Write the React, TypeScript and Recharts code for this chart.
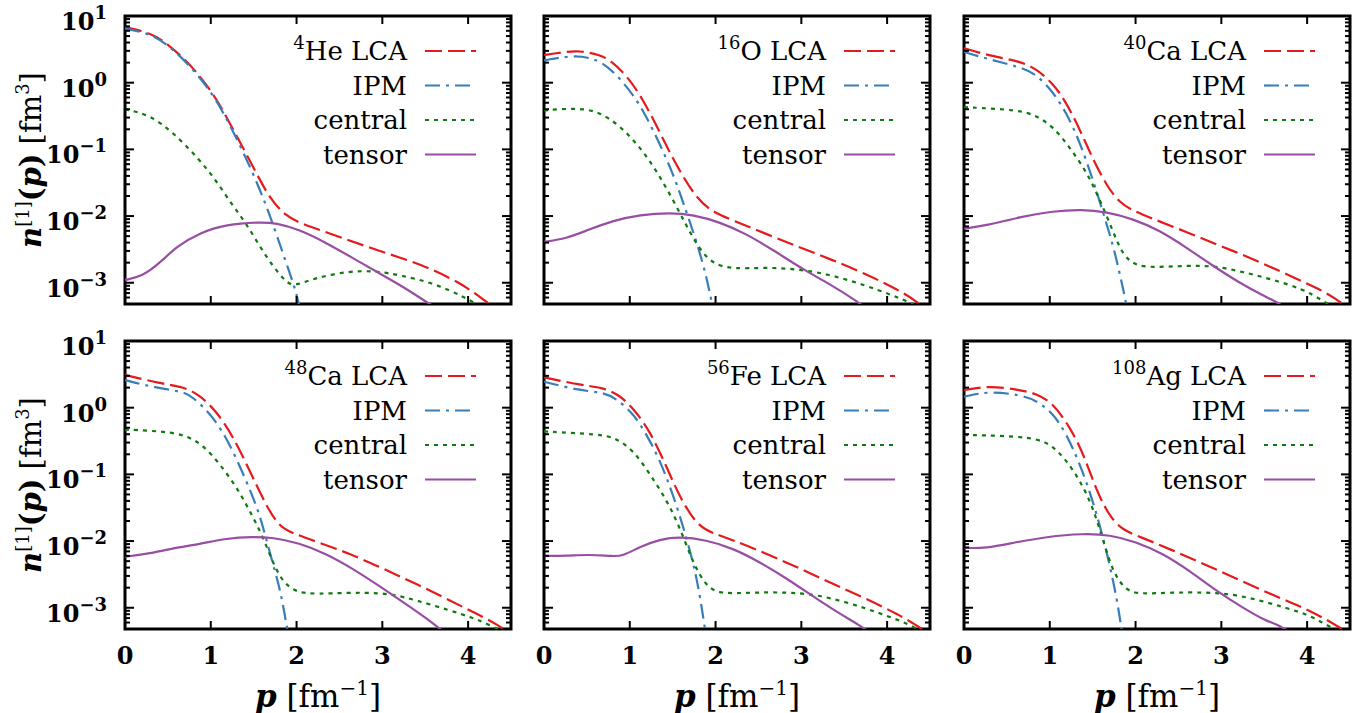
import React from 'react';
import { Legend, Line, LineChart, ReferenceArea, XAxis, YAxis } from 'recharts';

const FONT = '"DejaVu Serif", serif';

// plot area geometry (page pixels)
const W = 386;
const H = 288;
const colLefts = [125, 544, 964];
const rowTops = [16, 341];
const Y_MIN = 4.8e-4;
const Y_MAX = 10;

const massNumbers = ['4', '16', '40', '48', '56', '108'];
const symbols = ['He', 'O', 'Ca', 'Ca', 'Fe', 'Ag'];

const xTicks = [0, 1, 2, 3, 4];

// log ticks: decades plus 2..9 minors
const yTicks: number[] = [];
for (let e = -4; e <= 1; e++) {
  for (let m = 1; m <= 9; m++) {
    const v = m * Math.pow(10, e);
    if (v >= 5.5e-4 && v <= 10.0001) yTicks.push(v);
  }
}

// [p (fm^-1), n(p) (fm^3)]
const heLCA = [[0, 6.8], [0.3, 5.6], [0.5, 3.8], [0.72, 2.1], [0.87, 1.26], [1.05, 0.63], [1.26, 0.2], [1.49, 0.056], [1.69, 0.0178], [1.88, 0.01], [2.03, 0.0079], [2.42, 0.0053], [2.81, 0.0035], [3.2, 0.0024], [3.59, 0.0016], [3.97, 0.00089], [4.2, 0.00053], [4.5, 0.00028]];
const heIPM = [[0, 6.5], [0.3, 5.4], [0.5, 3.7], [0.72, 2.0], [0.87, 1.2], [1.05, 0.6], [1.26, 0.19], [1.49, 0.045], [1.65, 0.014], [1.76, 0.0056], [1.92, 0.0014], [2.0, 0.0007], [2.06, 0.0003]];
const heCentral = [[0, 0.4], [0.29, 0.33], [0.56, 0.18], [0.87, 0.07], [1.07, 0.033], [1.26, 0.014], [1.41, 0.0079], [1.57, 0.0035], [1.72, 0.0018], [1.88, 0.001], [1.98, 0.00089], [2.23, 0.0012], [2.62, 0.0015], [2.93, 0.0015], [3.2, 0.0013], [3.59, 0.001], [3.97, 0.0006], [4.2, 0.0004]];
const heTensor = [[0, 0.0011], [0.21, 0.00126], [0.41, 0.002], [0.6, 0.0035], [0.87, 0.0056], [1.18, 0.0075], [1.57, 0.0081], [1.76, 0.0079], [2.03, 0.0063], [2.34, 0.004], [2.62, 0.0025], [3.0, 0.0013], [3.2, 0.00094], [3.5, 0.00053], [3.8, 0.0003]];

const oLCA = [[0, 2.6], [0.2, 2.85], [0.42, 3.05], [0.65, 2.6], [0.77, 2.2], [0.96, 1.3], [1.15, 0.58], [1.35, 0.18], [1.54, 0.058], [1.78, 0.018], [1.97, 0.0115], [2.2, 0.0086], [2.59, 0.0054], [2.98, 0.0034], [3.36, 0.0022], [3.75, 0.00136], [4.14, 0.00077], [4.33, 0.00054], [4.5, 0.00036]];
const oIPM = [[0, 2.16], [0.34, 2.6], [0.61, 2.3], [0.81, 1.5], [1.08, 0.58], [1.27, 0.2], [1.5, 0.046], [1.66, 0.0115], [1.78, 0.0041], [1.89, 0.0013], [1.95, 0.00054], [2.0, 0.0003]];
const oCentral = [[0, 0.385], [0.42, 0.42], [0.65, 0.36], [0.88, 0.23], [1.12, 0.108], [1.31, 0.048], [1.5, 0.018], [1.66, 0.0072], [1.81, 0.0032], [1.97, 0.0019], [2.2, 0.0016], [2.59, 0.0017], [2.98, 0.0016], [3.36, 0.0013], [3.75, 0.00091], [4.06, 0.00065], [4.26, 0.00051], [4.5, 0.00035]];
const oTensor = [[0, 0.0041], [0.26, 0.0046], [0.5, 0.0061], [0.81, 0.0086], [1.12, 0.0105], [1.47, 0.0112], [1.74, 0.0105], [2.05, 0.0081], [2.36, 0.0054], [2.67, 0.0031], [3.05, 0.0015], [3.36, 0.00091], [3.64, 0.00054], [3.9, 0.0003]];

const ca40LCA = [[0, 3.3], [0.26, 2.6], [0.65, 2.1], [0.84, 1.62], [1.04, 0.97], [1.19, 0.51], [1.35, 0.2], [1.5, 0.072], [1.66, 0.029], [1.81, 0.016], [1.97, 0.012], [2.2, 0.0091], [2.59, 0.0058], [2.98, 0.0036], [3.36, 0.0023], [3.75, 0.00136], [4.14, 0.00081], [4.33, 0.00058], [4.5, 0.0004]];
const ca40IPM = [[0, 2.9], [0.26, 2.3], [0.65, 1.72], [0.84, 1.36], [1.04, 0.72], [1.19, 0.36], [1.35, 0.13], [1.5, 0.036], [1.62, 0.0115], [1.74, 0.0036], [1.81, 0.00145], [1.86, 0.00077], [1.92, 0.0003]];
const ca40Central = [[0, 0.43], [0.65, 0.39], [0.84, 0.32], [1.04, 0.22], [1.23, 0.108], [1.43, 0.046], [1.58, 0.018], [1.74, 0.0058], [1.85, 0.0026], [2.0, 0.0018], [2.2, 0.0017], [2.59, 0.0018], [2.9, 0.0018], [3.21, 0.0015], [3.56, 0.00115], [3.95, 0.00081], [4.18, 0.00054], [4.4, 0.00036]];
const ca40Tensor = [[0, 0.0065], [0.26, 0.0072], [0.65, 0.0097], [1.04, 0.0119], [1.38, 0.0126], [1.66, 0.0115], [1.97, 0.0091], [2.28, 0.0061], [2.59, 0.0034], [2.9, 0.0018], [3.21, 0.001], [3.48, 0.00065], [3.67, 0.0005], [3.9, 0.0003]];

const ca48LCA = [[0, 3.1], [0.41, 2.3], [0.68, 2.07], [0.87, 1.55], [1.07, 0.87], [1.26, 0.37], [1.45, 0.116], [1.65, 0.033], [1.8, 0.0164], [1.96, 0.013], [2.23, 0.0098], [2.62, 0.0065], [3.0, 0.0039], [3.39, 0.0023], [3.78, 0.0013], [4.17, 0.00073], [4.34, 0.00056], [4.5, 0.0004]];
const ca48IPM = [[0, 2.6], [0.29, 2.07], [0.68, 1.74], [0.79, 1.46], [1.03, 0.73], [1.22, 0.29], [1.41, 0.082], [1.57, 0.026], [1.69, 0.0065], [1.8, 0.0021], [1.86, 0.00082], [1.92, 0.0003]];
const ca48Central = [[0, 0.47], [0.48, 0.44], [0.72, 0.38], [0.91, 0.275], [1.1, 0.146], [1.3, 0.065], [1.45, 0.029], [1.61, 0.0116], [1.77, 0.0033], [1.92, 0.0019], [2.11, 0.0016], [2.42, 0.00165], [2.81, 0.0017], [3.12, 0.0016], [3.39, 0.0013], [3.78, 0.00092], [4.05, 0.00071], [4.24, 0.00056], [4.5, 0.00038]];
const ca48Tensor = [[0, 0.0058], [0.29, 0.0065], [0.56, 0.0078], [0.87, 0.009], [1.18, 0.011], [1.49, 0.0116], [1.72, 0.0113], [2.03, 0.0094], [2.34, 0.0065], [2.65, 0.0039], [2.97, 0.0021], [3.29, 0.0011], [3.6, 0.00058], [3.8, 0.00035]];

const feLCA = [[0, 2.85], [0.42, 2.19], [0.69, 2.0], [0.88, 1.55], [1.04, 0.98], [1.23, 0.46], [1.43, 0.13], [1.58, 0.046], [1.78, 0.0174], [1.97, 0.013], [2.2, 0.0104], [2.59, 0.0065], [2.98, 0.0039], [3.36, 0.0023], [3.75, 0.00138], [4.14, 0.00078], [4.33, 0.00056], [4.5, 0.0004]];
const feIPM = [[0, 2.45], [0.42, 1.8], [0.69, 1.7], [0.84, 1.38], [1.04, 0.82], [1.19, 0.41], [1.35, 0.164], [1.5, 0.052], [1.66, 0.0116], [1.78, 0.0029], [1.85, 0.00082], [1.9, 0.0003]];
const feCentral = [[0, 0.44], [0.65, 0.4], [0.84, 0.35], [1.04, 0.23], [1.23, 0.104], [1.43, 0.041], [1.58, 0.0164], [1.74, 0.0046], [1.89, 0.0021], [2.05, 0.0016], [2.43, 0.0017], [2.82, 0.0017], [3.13, 0.0016], [3.44, 0.0013], [3.75, 0.00098], [4.02, 0.00074], [4.26, 0.00056], [4.5, 0.00038]];
const feTensor = [[0, 0.006], [0.26, 0.006], [0.53, 0.0063], [0.81, 0.0059], [0.92, 0.006], [1.12, 0.0082], [1.35, 0.0106], [1.58, 0.0116], [1.89, 0.0104], [2.2, 0.0078], [2.51, 0.0049], [2.82, 0.0028], [3.13, 0.0015], [3.44, 0.00082], [3.67, 0.00056], [3.85, 0.00038]];

const agLCA = [[0, 1.84], [0.3, 2.14], [0.65, 1.84], [0.84, 1.64], [1.04, 1.16], [1.23, 0.52], [1.39, 0.21], [1.54, 0.058], [1.7, 0.023], [1.85, 0.0146], [2.05, 0.0116], [2.43, 0.0073], [2.82, 0.0044], [3.21, 0.0026], [3.6, 0.00155], [3.98, 0.00098], [4.33, 0.00056], [4.5, 0.0004]];
const agIPM = [[0, 1.46], [0.3, 1.78], [0.65, 1.55], [0.84, 1.3], [1.04, 0.82], [1.19, 0.41], [1.35, 0.146], [1.5, 0.041], [1.62, 0.0116], [1.74, 0.0026], [1.81, 0.00082], [1.86, 0.0003]];
const agCentral = [[0, 0.39], [0.84, 0.37], [1.04, 0.26], [1.19, 0.164], [1.35, 0.082], [1.5, 0.033], [1.62, 0.0104], [1.74, 0.0033], [1.89, 0.0018], [2.05, 0.0016], [2.43, 0.0017], [2.82, 0.0017], [3.13, 0.0016], [3.44, 0.0013], [3.75, 0.001], [4.02, 0.00078], [4.22, 0.00056], [4.45, 0.00038]];
const agTensor = [[0, 0.0079], [0.26, 0.0078], [0.57, 0.0094], [0.96, 0.0116], [1.39, 0.013], [1.7, 0.0124], [2.0, 0.0098], [2.32, 0.0065], [2.64, 0.0035], [2.94, 0.0018], [3.25, 0.001], [3.52, 0.00063], [3.67, 0.00056], [3.9, 0.00035]];

const panelSeries = [
  [heLCA, heIPM, heCentral, heTensor],
  [oLCA, oIPM, oCentral, oTensor],
  [ca40LCA, ca40IPM, ca40Central, ca40Tensor],
  [ca48LCA, ca48IPM, ca48Central, ca48Tensor],
  [feLCA, feIPM, feCentral, feTensor],
  [agLCA, agIPM, agCentral, agTensor],
];

const seriesStyles = [
  { name: 'LCA', color: '#e41a1c', dash: '17 6' },
  { name: 'IPM', color: '#377eb8', dash: '15 6 3 6' },
  { name: 'central', color: '#0f7a0f', dash: '4 5' },
  { name: 'tensor', color: '#984ea3', dash: undefined },
];

const toPoints = (arr: number[][]) => arr.map(([p, n]) => ({ p, n }));

const expLabel = (e: number) => (e < 0 ? '\u2212' + -e : String(e));

function YTick(props: any) {
  const { x, y, payload, showLabel } = props;
  const v = payload.value;
  const e = Math.round(Math.log10(v));
  const major = Math.abs(v / Math.pow(10, e) - 1) < 1e-6;
  const len = major ? 9 : 5;
  return (
    <g>
      <line x1={x} y1={y} x2={x + len} y2={y} stroke="#000" strokeWidth={2} />
      <line x1={x + W} y1={y} x2={x + W - len} y2={y} stroke="#000" strokeWidth={2} />
      {showLabel && major && (
        <text x={x - 18} y={y + 14} textAnchor="end" fontFamily={FONT} fontWeight="bold" fontSize={24} fill="#000">
          10
          <tspan dy={-11} fontSize={18}>{expLabel(e)}</tspan>
        </text>
      )}
    </g>
  );
}

function XTick(props: any) {
  const { x, y, payload, showLabel } = props;
  return (
    <g>
      <line x1={x} y1={y} x2={x} y2={y - 8} stroke="#000" strokeWidth={2} />
      <line x1={x} y1={y - H} x2={x} y2={y - H + 8} stroke="#000" strokeWidth={2} />
      {showLabel && (
        <text x={x} y={y + 35} textAnchor="middle" fontFamily={FONT} fontWeight="bold" fontSize={24} fill="#000">
          {payload.value}
        </text>
      )}
    </g>
  );
}

function XLabel({ viewBox }: any) {
  const cx = viewBox.x + viewBox.width / 2;
  return (
    <text x={cx} y={viewBox.y + 78} textAnchor="middle" fontFamily={FONT} fontSize={31} fill="#000">
      <tspan fontWeight="bold" fontStyle="italic">p</tspan>
      <tspan>{' [fm'}</tspan>
      <tspan dy={-12} fontSize={20}>{'\u22121'}</tspan>
      <tspan dy={12}>]</tspan>
    </text>
  );
}

function YLabel({ viewBox }: any) {
  const cy = viewBox.y + viewBox.height / 2;
  const x = viewBox.x + viewBox.width - 84;
  return (
    <text transform={`translate(${x},${cy}) rotate(-90)`} textAnchor="middle" fontFamily={FONT} fontSize={29} fill="#000">
      <tspan fontWeight="bold" fontStyle="italic">n</tspan>
      <tspan dy={-12} fontSize={18}>[1]</tspan>
      <tspan dy={12} fontWeight="bold">(</tspan>
      <tspan fontWeight="bold" fontStyle="italic">p</tspan>
      <tspan fontWeight="bold">)</tspan>
      <tspan>{' [fm'}</tspan>
      <tspan dy={-12} fontSize={18}>3</tspan>
      <tspan dy={12}>]</tspan>
    </text>
  );
}

function PanelLegend({ mass, sym }: any) {
  return (
    <svg width={330} height={160} style={{ display: 'block' }}>
      {seriesStyles.map((s, i) => {
        const cy = 35 + i * 34.5;
        return (
          <g key={s.name}>
            <text x={226} y={cy + 9} textAnchor="end" fontFamily={FONT} fontSize={26} fill="#000">
              {i === 0 && <tspan dy={-11} fontSize={18}>{mass}</tspan>}
              {i === 0 && <tspan dy={11}>{sym + ' '}</tspan>}
              {s.name}
            </text>
            <line x1={244} x2={295} y1={cy} y2={cy} stroke={s.color} strokeWidth={2.2} strokeDasharray={s.dash} />
          </g>
        );
      })}
    </svg>
  );
}

function Panel({ idx }: { idx: number }) {
  const col = idx % 3;
  const row = Math.floor(idx / 3);
  const ml = col === 0 ? 125 : 20;
  const mt = row === 0 ? 16 : 20;
  const mr = 12;
  const mb = row === 1 ? 85 : 12;
  const left = colLefts[col] - ml;
  const top = rowTops[row] - mt;

  // axes need a non-zero size to be drawn: 1px each, taken out of the margins
  return (
    <div style={{ position: 'absolute', left, top }}>
      <LineChart
        width={ml + W + mr}
        height={mt + H + mb}
        margin={{ top: mt, right: mr, bottom: mb - 1, left: ml - 1 }}
      >
        <XAxis
          type="number"
          dataKey="p"
          domain={[0, 4.5]}
          ticks={xTicks}
          interval={0}
          allowDataOverflow
          height={1}
          tickSize={0}
          tickMargin={0}
          axisLine={false}
          tick={(p: any) => <XTick {...p} showLabel={row === 1} />}
          label={row === 1 ? { content: (p: any) => <XLabel {...p} /> } : undefined}
        />
        <YAxis
          type="number"
          scale="log"
          domain={[Y_MIN, Y_MAX]}
          ticks={yTicks}
          interval={0}
          allowDataOverflow
          width={1}
          tickSize={0}
          tickMargin={0}
          axisLine={false}
          tick={(p: any) => <YTick {...p} showLabel={col === 0} />}
          label={col === 0 ? { content: (p: any) => <YLabel {...p} /> } : undefined}
        />
        {seriesStyles.map((s, i) => (
          <Line
            key={s.name}
            data={toPoints(panelSeries[idx][i])}
            dataKey="n"
            name={s.name}
            type="basis"
            stroke={s.color}
            strokeWidth={2.2}
            strokeDasharray={s.dash}
            dot={false}
            activeDot={false}
            isAnimationActive={false}
          />
        ))}
        <ReferenceArea x1={0} x2={4.5} y1={Y_MIN} y2={Y_MAX} fill="none" stroke="#000" strokeWidth={3} />
        <Legend
          layout="vertical"
          align="center"
          verticalAlign="middle"
          wrapperStyle={{ top: mt, left: ml + W - 330, width: 330, height: 160 }}
          content={() => <PanelLegend mass={massNumbers[idx]} sym={symbols[idx]} />}
        />
      </LineChart>
    </div>
  );
}

export default function App() {
  return (
    <div
      style={{
        position: 'absolute',
        left: 0,
        top: 0,
        width: 1357,
        height: 713,
        background: '#fff',
        fontFamily: FONT,
        overflow: 'hidden',
      }}
    >
      {[0, 1, 2, 3, 4, 5].map((i) => (
        <Panel key={i} idx={i} />
      ))}
    </div>
  );
}
